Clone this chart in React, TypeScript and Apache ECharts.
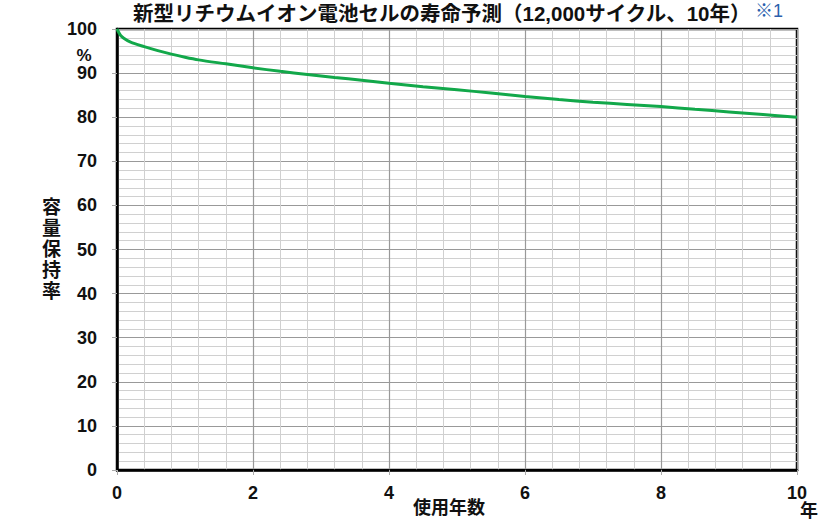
import React, { useEffect, useRef } from "react";
import * as echarts from "echarts";

const years = [0, 0.05, 0.1, 0.2, 0.4, 0.6, 0.8, 1.0, 1.2, 1.6, 2.0, 2.4, 2.8, 3.2, 3.6, 4.0, 4.5, 5.0, 5.5, 6.0, 6.5, 7.0, 7.5, 8.0, 8.5, 9.0, 9.5, 10];
const retention = [100, 98.6, 97.9, 97.0, 96.0, 95.1, 94.3, 93.6, 93.0, 92.1, 91.2, 90.4, 89.7, 89.0, 88.4, 87.7, 86.9, 86.2, 85.5, 84.7, 84.0, 83.4, 82.9, 82.4, 81.8, 81.2, 80.6, 80.0];

const titleText = "新型リチウムイオン電池セルの寿命予測（12,000サイクル、10年）";
const noteText = "※1";
const yName = "容量保持率";
const xName = "使用年数";
const unitY = "%";
const unitX = "年";

const FONT = "'Liberation Sans', Arial, 'Noto Sans CJK JP', sans-serif";

export default function App() {
  const ref = useRef<HTMLDivElement>(null);
  useEffect(() => {
    document.body.style.margin = "0";
    if (!ref.current) return;
    const chart = echarts.init(ref.current, null, { renderer: "svg" });
    chart.setOption({
      animation: false,
      backgroundColor: "#ffffff",
      textStyle: { fontFamily: FONT },
      grid: {
        left: 117,
        right: 23,
        top: 29,
        bottom: 50,
        outerBoundsMode: "none",
        containLabel: false,
        show: true,
        borderColor: "#000",
        borderWidth: 2.5,
        backgroundColor: "transparent",
      },
      xAxis: {
        type: "value",
        min: 0,
        max: 10,
        interval: 2,
        axisLine: { show: true, lineStyle: { color: "#000", width: 2.5 } },
        axisTick: { show: true, length: 5, lineStyle: { color: "#aaa" } },
        axisLabel: { fontSize: 18, fontWeight: "bold", color: "#111", margin: 14, fontFamily: FONT },
        splitLine: { show: true, lineStyle: { color: "#999", width: 1.2 } },
        minorTick: { show: true, splitNumber: 5, length: 0 },
        minorSplitLine: { show: true, lineStyle: { color: "#d0d0d0", width: 1 } },
      },
      yAxis: {
        type: "value",
        min: 0,
        max: 100,
        interval: 10,
        name: yName.split("").join("\n"),
        nameLocation: "middle",
        nameRotate: 0,
        nameGap: 55,
        nameTextStyle: { fontSize: 19, fontWeight: "bold", color: "#111", lineHeight: 21, fontFamily: FONT },
        axisLine: { show: true, lineStyle: { color: "#000", width: 2.5 } },
        axisTick: { show: true, length: 5, lineStyle: { color: "#aaa" } },
        axisLabel: { fontSize: 18, fontWeight: "bold", color: "#111", margin: 20, fontFamily: FONT },
        splitLine: { show: true, lineStyle: { color: "#999", width: 1.2 } },
        minorTick: { show: true, splitNumber: 5, length: 0 },
        minorSplitLine: { show: true, lineStyle: { color: "#d0d0d0", width: 1 } },
      },
      graphic: [
        {
          type: "text",
          left: 133,
          top: 3,
          style: { text: titleText, fontSize: 20.5, fontWeight: "bold", fill: "#111", fontFamily: FONT },
        },
        {
          type: "text",
          left: 755,
          top: 2,
          style: { text: noteText, fontSize: 18, fill: "#2b5fad", fontFamily: FONT },
        },
        {
          type: "text",
          x: 84,
          y: 55,
          style: { text: unitY, fontSize: 17, fontWeight: "bold", fill: "#111", align: "center", verticalAlign: "middle", fontFamily: FONT },
        },
        {
          type: "text",
          x: 449,
          y: 508,
          style: { text: xName, fontSize: 18, fontWeight: "bold", fill: "#111", align: "center", verticalAlign: "middle", fontFamily: FONT },
        },
        {
          type: "text",
          x: 809,
          y: 511,
          style: { text: unitX, fontSize: 18, fontWeight: "bold", fill: "#111", align: "center", verticalAlign: "middle", fontFamily: FONT },
        },
      ],
      series: [
        {
          type: "line",
          data: years.map((y, i) => [y, retention[i]]),
          smooth: 0.3,
          showSymbol: false,
          lineStyle: { color: "#12a84a", width: 3 },
          z: 5,
        },
      ],
    });
    return () => chart.dispose();
  }, []);
  return <div ref={ref} style={{ width: 820, height: 520 }} />;
}
